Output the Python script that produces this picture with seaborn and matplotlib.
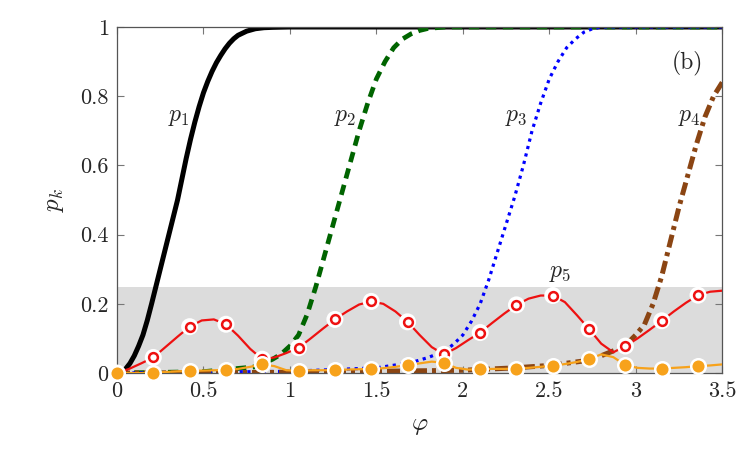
import matplotlib
matplotlib.use('Agg')
import matplotlib.pyplot as plt
import seaborn as sns
from matplotlib.ticker import FuncFormatter, MultipleLocator

# p1..p4
p1_x = [0, 0.025, 0.05, 0.075, 0.1, 0.125, 0.15, 0.175, 0.2, 0.225, 0.25,
        0.275, 0.3, 0.325, 0.35, 0.375, 0.4, 0.425, 0.45, 0.475, 0.5, 0.525,
        0.55, 0.575, 0.6, 0.625, 0.65, 0.675, 0.7, 0.75, 0.8, 0.85, 0.9, 1.0,
        3.5]
p1_y = [0, 0.003, 0.012, 0.028, 0.05, 0.078, 0.11, 0.152, 0.2, 0.25, 0.3,
        0.35, 0.4, 0.45, 0.5, 0.56, 0.62, 0.675, 0.725, 0.77, 0.81, 0.843,
        0.872, 0.897, 0.918, 0.937, 0.953, 0.966, 0.976, 0.988, 0.995, 0.998,
        0.999, 1.0, 1.0]

p2_x = [0, 0.5, 0.8, 0.9, 0.95, 1.0, 1.05, 1.1, 1.15, 1.2, 1.25, 1.3, 1.35,
        1.4, 1.45, 1.5, 1.55, 1.6, 1.65, 1.7, 1.75, 1.8, 1.9, 3.5]
p2_y = [0, 0.004, 0.018, 0.04, 0.055, 0.078, 0.11, 0.17, 0.25, 0.34, 0.43,
        0.52, 0.61, 0.7, 0.78, 0.85, 0.9, 0.94, 0.965, 0.98, 0.99, 0.996, 1.0, 1.0]

p3_x = [0, 1.0, 1.5, 1.7, 1.8, 1.9, 1.95, 2.0, 2.05, 2.1, 2.15, 2.2, 2.25,
        2.3, 2.35, 2.4, 2.45, 2.5, 2.55, 2.6, 2.65, 2.7, 2.75, 2.8, 3.5]
p3_y = [0, 0.005, 0.015, 0.03, 0.045, 0.065, 0.085, 0.11, 0.15, 0.2, 0.27,
        0.35, 0.43, 0.51, 0.6, 0.7, 0.78, 0.85, 0.9, 0.94, 0.965, 0.985, 0.995,
        1.0, 1.0]

p4_x = [0, 1.0, 2.0, 2.3, 2.5, 2.7, 2.8, 2.9, 2.95, 3.0, 3.05, 3.1, 3.15,
        3.2, 3.25, 3.3, 3.35, 3.4, 3.45, 3.5]
p4_y = [0, 0.002, 0.008, 0.015, 0.022, 0.035, 0.05, 0.07, 0.085, 0.11, 0.14,
        0.2, 0.28, 0.38, 0.48, 0.57, 0.66, 0.74, 0.8, 0.84]

# p5 and the orange series, sampled every 0.07 (markers every 0.21)
phi = [0, 0.07, 0.14, 0.21, 0.28, 0.35, 0.42, 0.49, 0.56, 0.63, 0.70, 0.77,
       0.84, 0.91, 0.98, 1.05, 1.12, 1.19, 1.26, 1.33, 1.40, 1.47, 1.54, 1.61,
       1.68, 1.75, 1.82, 1.89, 1.96, 2.03, 2.10, 2.17, 2.24, 2.31, 2.38, 2.45,
       2.52, 2.59, 2.66, 2.73, 2.80, 2.87, 2.94, 3.01, 3.08, 3.15, 3.22, 3.29,
       3.36, 3.43, 3.5]
p5_y = [0, 0.012, 0.028, 0.045, 0.075, 0.105, 0.134, 0.152, 0.155, 0.141,
        0.108, 0.07, 0.04, 0.045, 0.058, 0.073, 0.1, 0.128, 0.155, 0.178,
        0.198, 0.207, 0.2, 0.178, 0.148, 0.11, 0.075, 0.054, 0.072, 0.095,
        0.117, 0.145, 0.172, 0.197, 0.215, 0.224, 0.224, 0.205, 0.167, 0.127,
        0.085, 0.06, 0.078, 0.1, 0.125, 0.151, 0.178, 0.203, 0.225, 0.235, 0.238]
p6_y = [0, 0.0, 0.0, 0.001, 0.003, 0.005, 0.006, 0.007, 0.008, 0.009, 0.012,
        0.018, 0.025, 0.02, 0.008, 0.007, 0.008, 0.008, 0.009, 0.01, 0.011,
        0.012, 0.014, 0.018, 0.023, 0.028, 0.033, 0.03, 0.015, 0.01, 0.011,
        0.012, 0.012, 0.013, 0.015, 0.018, 0.021, 0.026, 0.032, 0.04, 0.054,
        0.046, 0.023, 0.015, 0.013, 0.013, 0.015, 0.017, 0.02, 0.022, 0.025]

sns.set_style('ticks')
plt.rcParams['font.family'] = 'cmr10'
plt.rcParams['mathtext.fontset'] = 'cm'
plt.rcParams['axes.formatter.use_mathtext'] = True

fig = plt.figure(figsize=(7.5, 4.5), dpi=100)
ax = fig.add_axes([0.156, 0.171, 0.807, 0.769])

ax.axhspan(0, 0.25, color='#dcdcdc', zorder=0, lw=0)

sns.lineplot(x=p1_x, y=p1_y, color='black', lw=3.6, ax=ax, zorder=2)
sns.lineplot(x=p2_x, y=p2_y, color='#006400', lw=3.4, ax=ax, zorder=2,
             linestyle=(0, (2.2, 1.4)))
sns.lineplot(x=p3_x, y=p3_y, color='#0000ff', lw=2.3, ax=ax, zorder=2,
             linestyle=(0, (1.0, 1.4)))
sns.lineplot(x=p4_x, y=p4_y, color='#8b4513', lw=3.6, ax=ax, zorder=2,
             linestyle=(0, (2.6, 1.0, 0.8, 1.0)))

red = '#ee1111'
orange = '#f7a21b'
sns.lineplot(x=phi, y=p5_y, color=red, lw=1.6, ax=ax, zorder=3)
sns.lineplot(x=phi, y=p6_y, color=orange, lw=1.6, ax=ax, zorder=3)
# markers every 0.21
mx = phi[::3][:17]
sns.scatterplot(x=mx, y=p5_y[::3][:17], s=150, color='white',
                edgecolor='none', ax=ax, zorder=4, clip_on=False)
sns.scatterplot(x=mx, y=p5_y[::3][:17], s=40, color='white',
                edgecolor=red, linewidth=1.8, ax=ax, zorder=5, clip_on=False)
sns.scatterplot(x=mx, y=p6_y[::3][:17], s=110, color=orange,
                edgecolor='white', linewidth=1.8, ax=ax, zorder=6, clip_on=False)

for txt, xx, yy in [('$p_1$', 0.36, 0.74), ('$p_2$', 1.32, 0.74),
                    ('$p_3$', 2.31, 0.74), ('$p_4$', 3.31, 0.74),
                    ('$p_5$', 2.56, 0.29)]:
    ax.text(xx, yy, txt, fontsize=17, ha='center', va='center')
ax.text(3.3, 0.895, '(b)', fontsize=17, ha='center', va='center')

ax.set_xlim(0, 3.5)
ax.set_ylim(0, 1)
ax.xaxis.set_major_locator(MultipleLocator(0.5))
ax.yaxis.set_major_locator(MultipleLocator(0.2))
fmt = FuncFormatter(lambda v, p: '%g' % round(v, 2))
ax.xaxis.set_major_formatter(fmt)
ax.yaxis.set_major_formatter(fmt)
ax.tick_params(direction='in', top=True, right=True, length=5, width=0.8,
               color='#777777', labelsize=16, pad=6)
for s in ax.spines.values():
    s.set_color('#555555')
    s.set_linewidth(0.9)
ax.set_xlabel(r'$\varphi$', fontsize=18, labelpad=10)
ax.set_ylabel(r'$p_k$', fontsize=18, labelpad=10)

fig.savefig('out.png', dpi=100)
